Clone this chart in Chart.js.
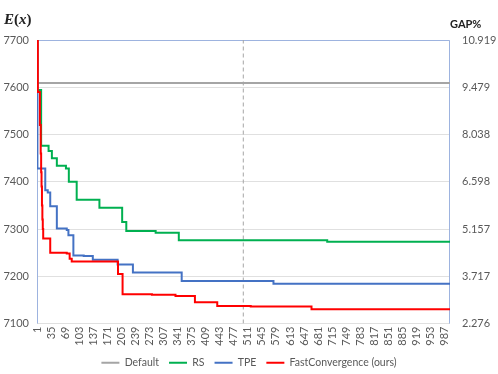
<!DOCTYPE html>
<html>
<head>
<meta charset="utf-8">
<script src="https://cdn.jsdelivr.net/npm/chart.js@4/dist/chart.umd.min.js"></script>
<style>
  html, body { margin: 0; padding: 0; background: #fff; }
  #wrap { position: relative; width: 498px; height: 374px; }
  #chart { position: absolute; left: 0; top: 0; }
  .ttl { position: absolute; color: #222; white-space: nowrap; }
  #ylab { left: 4px; top: 11px; font: bold 15px 'Liberation Serif', serif; }
  #ylab i { font-style: italic; }
  #y2lab { left: 450px; top: 17px; font: bold 11px Lato, 'Open Sans', sans-serif; }
</style>
</head>
<body>
<div id="wrap">
  <canvas id="chart" width="498" height="374"></canvas>
  <div class="ttl" id="ylab"><i>E</i>(<i>x</i>)</div>
  <div class="ttl" id="y2lab">GAP%</div>
</div>
<script>
// iteration ticks on the x axis
const iterTicks = [1, 35, 69, 103, 137, 171, 205, 239, 273, 307, 341, 375, 409, 443, 477,
  511, 545, 579, 613, 647, 681, 715, 749, 783, 817, 851, 885, 919, 953, 987];
const gapTicks = [2.276, 3.717, 5.157, 6.598, 8.038, 9.479, 10.919];

// step series: iteration where the best value changes, and the new value
const defaultIter = [1, 1000];
const defaultVal = [7609, 7609];

const rsIter = [1, 2, 11, 29, 37, 49, 71, 78, 97, 152, 207, 217, 288, 344, 703, 1000];
const rsVal = [7800, 7594, 7476, 7465, 7450, 7434, 7428, 7400, 7362, 7345, 7315, 7296, 7292, 7276, 7273, 7273];

const tpeIter = [1, 2, 21, 27, 33, 49, 73, 77, 89, 114, 136, 196, 233, 351, 573, 1000];
const tpeVal = [7800, 7428, 7382, 7377, 7348, 7301, 7298, 7287, 7244, 7243, 7235, 7225, 7208, 7190, 7184, 7184];

const fastIter = [1, 3, 8, 10, 11, 12, 13, 14, 15, 16, 33, 73, 80, 85, 197, 208, 279, 336, 383, 437, 518, 665, 1000];
const fastVal = [7950, 7590, 7520, 7460, 7420, 7390, 7350, 7320, 7300, 7280, 7250, 7248, 7237, 7231, 7205, 7162, 7161, 7158, 7145, 7137, 7136, 7130, 7130];

const markerIter = [500, 500];
const markerVal = [7100, 7700];

const pts = (xs, ys) => xs.map((x, i) => ({ x, y: ys[i] }));

const frame = {
  id: 'frame',
  beforeDatasetsDraw(chart) {
    const a = chart.chartArea;
    const c = chart.ctx;
    c.save();
    c.strokeStyle = '#9db3df';
    c.lineWidth = 1;
    c.beginPath();
    c.moveTo(a.left + 0.5, a.bottom);
    c.lineTo(a.left + 0.5, a.top + 0.5);
    c.lineTo(a.right - 0.5, a.top + 0.5);
    c.lineTo(a.right - 0.5, a.bottom);
    c.stroke();
    c.restore();
  }
};

const line = (label, data, color, order) => ({
  label, data, order,
  borderColor: color,
  backgroundColor: color,
  borderWidth: 2,
  pointRadius: 0,
  pointStyle: 'line',
  stepped: 'before',
});

new Chart(document.getElementById('chart'), {
  type: 'line',
  data: {
    datasets: [
      line('Default', pts(defaultIter, defaultVal), '#a5a5a5', 4),
      line('RS', pts(rsIter, rsVal), '#00b050', 3),
      line('TPE', pts(tpeIter, tpeVal), '#4472c4', 2),
      line('FastConvergence (ours)', pts(fastIter, fastVal), '#ff0000', 1),
      {
        label: 'marker',
        data: pts(markerIter, markerVal),
        borderColor: '#a5a5a5',
        borderWidth: 1,
        borderDash: [4, 3],
        pointRadius: 0,
        order: 5,
      },
    ],
  },
  plugins: [frame],
  options: {
    responsive: false,
    animation: false,
    layout: { padding: { top: 40, left: 0, right: 0, bottom: -4 } },
    plugins: {
      legend: {
        position: 'bottom',
        labels: {
          usePointStyle: true,
          pointStyle: 'line',
          pointStyleWidth: 18,
          boxWidth: 12,
          boxHeight: 10,
          padding: 10,
          color: '#595959',
          font: { family: 'Lato', size: 10.5 },
          filter: (item) => item.text !== 'marker',
          sort: (a, b) => a.datasetIndex - b.datasetIndex,
        },
      },
      tooltip: { enabled: false },
    },
    scales: {
      x: {
        type: 'linear',
        min: 1,
        max: 1000,
        afterBuildTicks: (s) => { s.ticks = iterTicks.map((v) => ({ value: v })); },
        afterFit: (s) => { s.height = 24; },
        grid: { display: false, drawTicks: false },
        border: { display: false },
        ticks: {
          minRotation: 90,
          maxRotation: 90,
          autoSkip: false,
          padding: 3,
          color: '#595959',
          font: { family: 'Lato', size: 11 },
        },
      },
      y: {
        min: 7100,
        max: 7700,
        afterFit: (s) => { s.width = 37; },
        ticks: {
          stepSize: 100,
          padding: 8,
          color: '#595959',
          font: { family: 'Lato', size: 11 },
          callback: (v) => String(v),
        },
        grid: { color: '#e0e0e0', drawTicks: false },
        border: { display: false },
      },
      y1: {
        position: 'right',
        min: 2.276,
        max: 10.919,
        afterBuildTicks: (s) => { s.ticks = gapTicks.map((v) => ({ value: v })); },
        afterFit: (s) => { s.width = 48; },
        ticks: {
          padding: 12,
          color: '#595959',
          font: { family: 'Lato', size: 11 },
          callback: (v) => v.toFixed(3),
        },
        grid: { display: false, drawTicks: false },
        border: { display: false },
      },
    },
  },
});
</script>
</body>
</html>
